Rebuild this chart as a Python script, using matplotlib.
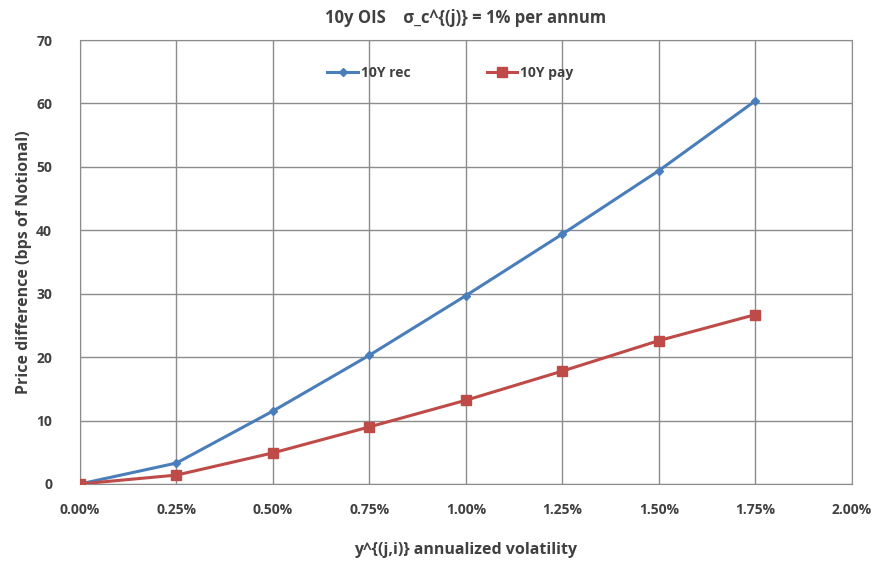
import matplotlib
matplotlib.use("Agg")
import matplotlib.pyplot as plt
from matplotlib.ticker import FuncFormatter

# Dữ liệu
vol = [0.0, 0.25, 0.50, 0.75, 1.00, 1.25, 1.50, 1.75]
rec_10y = [0.0, 3.3, 11.5, 20.3, 29.7, 39.4, 49.4, 60.4]
pay_10y = [0.0, 1.4, 4.9, 9.0, 13.2, 17.8, 22.6, 26.7]
x_ticks = [0.0, 0.25, 0.50, 0.75, 1.00, 1.25, 1.50, 1.75, 2.00]
y_ticks = [0, 10, 20, 30, 40, 50, 60, 70]

plt.rcParams['font.family'] = ['Open Sans', 'DejaVu Sans']
chu = '#404040'
luoi = '#8c8c8c'

fig = plt.figure(figsize=(8.82, 5.65), dpi=100)
ax = fig.add_axes([0.0907, 0.1434, 0.875, 0.7858])

ax.plot(vol, rec_10y, color='#4a7ebb', lw=2.2, marker='D', ms=4.5,
        label='10Y rec', zorder=3)
ax.plot(vol, pay_10y, color='#be4b48', lw=2.2, marker='s', ms=7,
        label='10Y pay', zorder=3)

ax.set_xlim(0, 2.0)
ax.set_ylim(0, 70)
ax.set_xticks(x_ticks)
ax.set_yticks(y_ticks)
ax.xaxis.set_major_formatter(FuncFormatter(lambda v, p: f"{v:.2f}%"))
ax.grid(True, color=luoi, lw=1)
ax.set_axisbelow(True)
for s in ax.spines.values():
    s.set_color(luoi)
ax.tick_params(length=0, labelsize=10, colors=chu, pad=14)
ax.tick_params(axis='y', pad=20)
for t in ax.get_xticklabels() + ax.get_yticklabels():
    t.set_fontweight('bold')

ax.set_title('10y OIS    σ_c^{(j)} = 1% per annum', fontsize=12,
             fontweight='bold', color=chu, pad=12)
ax.set_xlabel('y^{(j,i)} annualized volatility', fontsize=11.5,
              fontweight='bold', color=chu, labelpad=18)
ax.set_ylabel('Price difference (bps of Notional)', fontsize=11.5,
              fontweight='bold', color=chu, labelpad=3)

leg = ax.legend(loc='upper center', bbox_to_anchor=(0.48, 0.97), ncol=2,
                frameon=False, fontsize=10, columnspacing=5.5,
                handlelength=2.2, handletextpad=0.2)
for t in leg.get_texts():
    t.set_fontweight('bold')
    t.set_color(chu)

fig.savefig('out.png', dpi=100)
